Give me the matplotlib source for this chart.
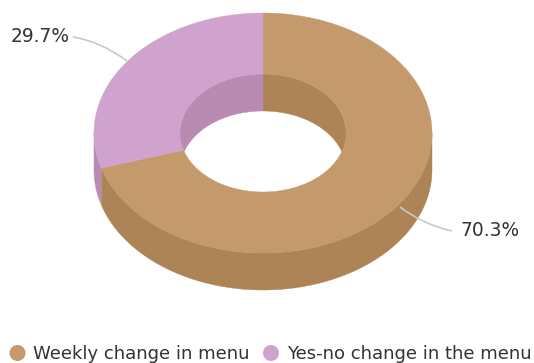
import numpy as np
import matplotlib
matplotlib.use("Agg")
import matplotlib.pyplot as plt
from matplotlib.patches import Polygon, Circle, PathPatch
from matplotlib.path import Path

categories = ["Weekly change in menu", "Yes-no change in the menu"]
values = [70.3, 29.7]
labels = ["70.3%", "29.7%"]

top_colors = ["#C49A6C", "#D0A2CE"]
side_colors = ["#AD8455", "#B98BB2"]
text_color = "#333333"
line_color = "#C9C9CC"

CX, CY = 263, 133
RX, RY = 169, 120
IRX, IRY = 83, 59
DEPTH = 37

fig = plt.figure(figsize=(5.34, 3.63), dpi=100)
ax = fig.add_axes([0, 0, 1, 1])
ax.set_xlim(0, 534)
ax.set_ylim(363, 0)
ax.axis("off")


def arc(a0, a1, rx, ry, dy=0):
    """Screen angle in degrees, clockwise from the top of the ellipse."""
    t = np.radians(np.linspace(a0, a1, max(3, int(abs(a1 - a0) * 2))))
    return np.column_stack([CX + rx * np.sin(t), CY - ry * np.cos(t) + dy])


def band(a0, a1, rx0, ry0, dy0, rx1, ry1, dy1, color, z):
    pts = np.vstack([arc(a0, a1, rx0, ry0, dy0), arc(a1, a0, rx1, ry1, dy1)])
    ax.add_patch(Polygon(pts, closed=True, facecolor=color, edgecolor=color,
                         linewidth=0.3, zorder=z))


def leader(p0, ctrl, p1):
    ax.add_patch(PathPatch(Path([p0, ctrl, p1], [Path.MOVETO, Path.CURVE3, Path.CURVE3]),
                           facecolor="none", edgecolor=line_color, lw=1.2, zorder=4))


edges = np.concatenate([[0], np.cumsum(values)]) / sum(values) * 360

for i in range(len(values)):
    a0, a1 = edges[i], edges[i + 1]
    # inner wall: far half of the hole
    for lo, hi in [(a0, min(a1, 90)), (max(a0, 270), a1)]:
        if hi > lo:
            band(lo, hi, IRX, IRY, 0, IRX, IRY, DEPTH, side_colors[i], 1)
    # outer wall: near half of the ring
    lo, hi = max(a0, 90), min(a1, 270)
    if hi > lo:
        band(lo, hi, RX, RY, 0, RX, RY, DEPTH, side_colors[i], 2)

for i in range(len(values)):
    band(edges[i], edges[i + 1], RX, RY, 0, IRX, IRY, 0, top_colors[i], 3)

# leader lines
leader((400, 207), (424, 225), (452, 231))
leader((127, 61), (100, 41), (73, 37))

ax.text(461, 230, labels[0], color=text_color, fontsize=13.4,
        ha="left", va="center", zorder=5)
ax.text(70, 36, labels[1], color=text_color, fontsize=13.4,
        ha="right", va="center", zorder=5)

# legend
leg_x = [17.5, 271]
leg_tx = [33, 287]
for i, c in enumerate(categories):
    ax.add_patch(Circle((leg_x[i], 353), 8, facecolor=top_colors[i],
                        edgecolor="none", zorder=5))
    ax.text(leg_tx[i], 354, c, color=text_color, fontsize=13,
            ha="left", va="center", zorder=5)

fig.savefig("out.png", dpi=100, facecolor="white")
